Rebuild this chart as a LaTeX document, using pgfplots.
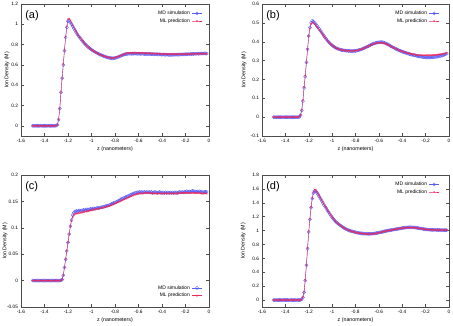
\documentclass[border=0pt]{standalone}
\usepackage{fontspec}
\setmainfont{Liberation Sans}
\usepackage{pgfplots}
\usepackage{pgfplotstable}
\pgfplotsset{compat=1.18}

\definecolor{mdc}{RGB}{90,90,245}
\definecolor{mlc}{RGB}{235,40,90}

\pgfplotstableread{
z md ml
-1.50 0 0
-1.49 0 0
-1.48 0 0
-1.47 0 0
-1.46 0 0
-1.45 0 0
-1.44 0 0
-1.43 0 0
-1.42 0 0
-1.41 0 0
-1.40 0 0
-1.39 0 0
-1.38 0 0
-1.37 0 0
-1.36 0 0
-1.35 0 0
-1.34 0 0
-1.33 0 0
-1.32 0 0
-1.31 0 0
-1.30 0.002 0.003
-1.29 0.01 0.012
-1.28 0.06 0.065
-1.27 0.17 0.17
-1.26 0.33 0.33
-1.25 0.47 0.47
-1.24 0.60 0.61
-1.23 0.74 0.75
-1.22 0.87 0.88
-1.21 0.97 0.98
-1.20 1.03 1.05
-1.19 1.035 1.055
-1.18 1.02 1.04
-1.17 1.00 1.015
-1.16 0.98 0.99
-1.15 0.96 0.97
-1.14 0.94 0.948
-1.13 0.92 0.926
-1.12 0.90 0.905
-1.11 0.885 0.888
-1.10 0.87 0.872
-1.09 0.855 0.857
-1.08 0.84 0.842
-1.07 0.825 0.828
-1.06 0.812 0.814
-1.05 0.80 0.801
-1.04 0.788 0.789
-1.03 0.777 0.778
-1.02 0.767 0.768
-1.01 0.758 0.759
-1.00 0.75 0.75
-0.99 0.742 0.742
-0.98 0.735 0.735
-0.97 0.728 0.728
-0.96 0.721 0.721
-0.95 0.715 0.715
-0.94 0.709 0.709
-0.93 0.703 0.703
-0.92 0.698 0.698
-0.91 0.693 0.693
-0.90 0.688 0.689
-0.89 0.684 0.685
-0.88 0.680 0.681
-0.87 0.676 0.678
-0.86 0.673 0.675
-0.85 0.670 0.672
-0.84 0.668 0.670
-0.83 0.666 0.669
-0.82 0.665 0.669
-0.81 0.666 0.670
-0.80 0.668 0.672
-0.79 0.671 0.675
-0.78 0.675 0.679
-0.77 0.679 0.683
-0.76 0.684 0.688
-0.75 0.689 0.693
-0.74 0.694 0.698
-0.73 0.699 0.703
-0.72 0.703 0.708
-0.71 0.706 0.712
-0.70 0.708 0.715
-0.69 0.709 0.717
-0.68 0.710 0.718
-0.67 0.711 0.719
-0.66 0.709 0.719
-0.65 0.711 0.720
-0.64 0.710 0.720
-0.63 0.712 0.720
-0.62 0.710 0.720
-0.61 0.709 0.719
-0.60 0.711 0.719
-0.59 0.710 0.718
-0.58 0.708 0.718
-0.57 0.710 0.717
-0.56 0.709 0.717
-0.55 0.707 0.716
-0.54 0.709 0.716
-0.53 0.708 0.715
-0.52 0.706 0.715
-0.51 0.708 0.714
-0.50 0.707 0.714
-0.49 0.705 0.713
-0.48 0.707 0.713
-0.47 0.706 0.712
-0.46 0.704 0.712
-0.45 0.706 0.711
-0.44 0.705 0.711
-0.43 0.703 0.710
-0.42 0.705 0.710
-0.41 0.703 0.709
-0.40 0.701 0.709
-0.39 0.703 0.708
-0.38 0.702 0.708
-0.37 0.700 0.707
-0.36 0.702 0.707
-0.35 0.700 0.707
-0.34 0.698 0.706
-0.33 0.700 0.706
-0.32 0.699 0.706
-0.31 0.701 0.706
-0.30 0.699 0.706
-0.29 0.700 0.706
-0.28 0.702 0.706
-0.27 0.701 0.706
-0.26 0.703 0.706
-0.25 0.702 0.706
-0.24 0.704 0.707
-0.23 0.703 0.707
-0.22 0.705 0.707
-0.21 0.704 0.707
-0.20 0.706 0.707
-0.19 0.705 0.708
-0.18 0.707 0.708
-0.17 0.706 0.708
-0.16 0.708 0.708
-0.15 0.707 0.709
-0.14 0.709 0.709
-0.13 0.708 0.709
-0.12 0.710 0.709
-0.11 0.709 0.710
-0.10 0.711 0.710
-0.09 0.710 0.710
-0.08 0.712 0.710
-0.07 0.711 0.711
-0.06 0.713 0.711
-0.05 0.712 0.711
-0.04 0.714 0.711
-0.03 0.712 0.711
-0.02 0.711 0.711
}\tA

\pgfplotstableread{
z md ml
-1.50 0 0
-1.49 0 0
-1.48 0 0
-1.47 0 0
-1.46 0 0
-1.45 0 0
-1.44 0 0
-1.43 0 0
-1.42 0 0
-1.41 0 0
-1.40 0 0
-1.39 0 0
-1.38 0 0
-1.37 0 0
-1.36 0 0
-1.35 0 0
-1.34 0 0
-1.33 0 0
-1.32 0 0
-1.31 0 0
-1.30 0 0
-1.29 0 0
-1.28 0.002 0.003
-1.27 0.01 0.012
-1.26 0.035 0.04
-1.25 0.085 0.09
-1.24 0.155 0.16
-1.23 0.215 0.22
-1.22 0.29 0.29
-1.21 0.36 0.36
-1.20 0.43 0.43
-1.19 0.475 0.47
-1.18 0.50 0.495
-1.17 0.512 0.502
-1.16 0.507 0.50
-1.15 0.50 0.494
-1.14 0.492 0.487
-1.13 0.484 0.479
-1.12 0.476 0.471
-1.11 0.467 0.463
-1.10 0.458 0.455
-1.09 0.449 0.446
-1.08 0.44 0.437
-1.07 0.431 0.429
-1.06 0.422 0.421
-1.05 0.414 0.413
-1.04 0.406 0.405
-1.03 0.399 0.398
-1.02 0.392 0.392
-1.01 0.386 0.386
-1.00 0.381 0.381
-0.99 0.376 0.376
-0.98 0.372 0.372
-0.97 0.368 0.368
-0.96 0.365 0.365
-0.95 0.362 0.362
-0.94 0.36 0.36
-0.93 0.358 0.358
-0.92 0.356 0.356
-0.91 0.355 0.355
-0.90 0.354 0.354
-0.89 0.353 0.353
-0.88 0.352 0.353
-0.87 0.353 0.352
-0.86 0.351 0.352
-0.85 0.352 0.352
-0.84 0.350 0.352
-0.83 0.351 0.352
-0.82 0.350 0.352
-0.81 0.352 0.352
-0.80 0.351 0.353
-0.79 0.353 0.354
-0.78 0.354 0.355
-0.77 0.356 0.356
-0.76 0.358 0.358
-0.75 0.36 0.36
-0.74 0.362 0.362
-0.73 0.365 0.365
-0.72 0.368 0.367
-0.71 0.371 0.37
-0.70 0.374 0.373
-0.69 0.377 0.376
-0.68 0.38 0.379
-0.67 0.383 0.382
-0.66 0.386 0.384
-0.65 0.389 0.387
-0.64 0.391 0.389
-0.63 0.393 0.391
-0.62 0.395 0.392
-0.61 0.396 0.393
-0.60 0.397 0.394
-0.59 0.398 0.394
-0.58 0.398 0.394
-0.57 0.397 0.393
-0.56 0.396 0.392
-0.55 0.394 0.391
-0.54 0.391 0.389
-0.53 0.388 0.386
-0.52 0.385 0.383
-0.51 0.381 0.38
-0.50 0.377 0.377
-0.49 0.374 0.374
-0.48 0.37 0.371
-0.47 0.367 0.367
-0.46 0.364 0.364
-0.45 0.361 0.361
-0.44 0.358 0.358
-0.43 0.355 0.356
-0.42 0.352 0.353
-0.41 0.35 0.351
-0.40 0.347 0.349
-0.39 0.345 0.347
-0.38 0.343 0.345
-0.37 0.341 0.343
-0.36 0.339 0.341
-0.35 0.337 0.339
-0.34 0.335 0.338
-0.33 0.333 0.336
-0.32 0.331 0.335
-0.31 0.33 0.334
-0.30 0.328 0.333
-0.29 0.327 0.332
-0.28 0.325 0.331
-0.27 0.324 0.330
-0.26 0.322 0.329
-0.25 0.321 0.329
-0.24 0.32 0.328
-0.23 0.319 0.328
-0.22 0.318 0.328
-0.21 0.317 0.328
-0.20 0.317 0.328
-0.19 0.316 0.328
-0.18 0.317 0.328
-0.17 0.316 0.328
-0.16 0.317 0.328
-0.15 0.317 0.329
-0.14 0.318 0.329
-0.13 0.318 0.329
-0.12 0.319 0.330
-0.11 0.32 0.330
-0.10 0.321 0.331
-0.09 0.322 0.332
-0.08 0.324 0.333
-0.07 0.325 0.334
-0.06 0.327 0.335
-0.05 0.329 0.336
-0.04 0.331 0.337
-0.03 0.334 0.339
-0.02 0.337 0.341
}\tB

\pgfplotstableread{
z md ml
-1.50 0 0
-1.49 0 0
-1.48 0 0
-1.47 0 0
-1.46 0 0
-1.45 0 0
-1.44 0 0
-1.43 0 0
-1.42 0 0
-1.41 0 0
-1.40 0 0
-1.39 0 0
-1.38 0 0
-1.37 0 0
-1.36 0 0
-1.35 0 0
-1.34 0 0
-1.33 0 0
-1.32 0 0
-1.31 0 0
-1.30 0 0
-1.29 0 0
-1.28 0 0
-1.27 0 0
-1.26 0.0005 0.0005
-1.25 0.002 0.002
-1.24 0.01 0.01
-1.23 0.025 0.025
-1.22 0.04 0.041
-1.21 0.056 0.057
-1.20 0.072 0.073
-1.19 0.088 0.088
-1.18 0.103 0.102
-1.17 0.115 0.113
-1.16 0.124 0.12
-1.15 0.129 0.124
-1.14 0.131 0.126
-1.13 0.132 0.127
-1.12 0.131 0.127
-1.11 0.132 0.128
-1.10 0.133 0.128
-1.09 0.132 0.129
-1.08 0.133 0.129
-1.07 0.134 0.13
-1.06 0.133 0.13
-1.05 0.134 0.131
-1.04 0.135 0.131
-1.03 0.134 0.132
-1.02 0.135 0.132
-1.01 0.136 0.133
-1.00 0.135 0.133
-0.99 0.136 0.134
-0.98 0.137 0.134
-0.97 0.136 0.135
-0.96 0.137 0.135
-0.95 0.138 0.136
-0.94 0.137 0.136
-0.93 0.138 0.137
-0.92 0.139 0.137
-0.91 0.139 0.138
-0.90 0.14 0.138
-0.89 0.14 0.139
-0.88 0.141 0.139
-0.87 0.142 0.14
-0.86 0.142 0.141
-0.85 0.143 0.141
-0.84 0.144 0.142
-0.83 0.145 0.143
-0.82 0.146 0.144
-0.81 0.147 0.145
-0.80 0.148 0.146
-0.79 0.149 0.147
-0.78 0.15 0.148
-0.77 0.151 0.149
-0.76 0.152 0.15
-0.75 0.154 0.151
-0.74 0.155 0.152
-0.73 0.156 0.153
-0.72 0.157 0.154
-0.71 0.158 0.155
-0.70 0.159 0.156
-0.69 0.16 0.157
-0.68 0.161 0.158
-0.67 0.162 0.159
-0.66 0.163 0.16
-0.65 0.164 0.161
-0.64 0.165 0.162
-0.63 0.166 0.163
-0.62 0.166 0.163
-0.61 0.167 0.164
-0.60 0.167 0.164
-0.59 0.168 0.165
-0.58 0.167 0.165
-0.57 0.168 0.165
-0.56 0.167 0.165
-0.55 0.168 0.166
-0.54 0.167 0.166
-0.53 0.168 0.166
-0.52 0.167 0.166
-0.51 0.168 0.166
-0.50 0.167 0.166
-0.49 0.168 0.165
-0.48 0.166 0.165
-0.47 0.167 0.165
-0.46 0.168 0.165
-0.45 0.167 0.165
-0.44 0.166 0.165
-0.43 0.167 0.165
-0.42 0.168 0.165
-0.41 0.167 0.165
-0.40 0.166 0.165
-0.39 0.167 0.165
-0.38 0.166 0.165
-0.37 0.167 0.165
-0.36 0.166 0.165
-0.35 0.167 0.165
-0.34 0.166 0.165
-0.33 0.167 0.165
-0.32 0.166 0.165
-0.31 0.167 0.165
-0.30 0.166 0.165
-0.29 0.167 0.165
-0.28 0.167 0.165
-0.27 0.166 0.165
-0.26 0.167 0.165
-0.25 0.168 0.166
-0.24 0.167 0.166
-0.23 0.168 0.166
-0.22 0.167 0.166
-0.21 0.168 0.166
-0.20 0.168 0.166
-0.19 0.169 0.166
-0.18 0.168 0.166
-0.17 0.169 0.166
-0.16 0.168 0.166
-0.15 0.169 0.166
-0.14 0.170 0.166
-0.13 0.169 0.166
-0.12 0.169 0.166
-0.11 0.168 0.166
-0.10 0.169 0.166
-0.09 0.168 0.166
-0.08 0.169 0.166
-0.07 0.168 0.165
-0.06 0.168 0.165
-0.05 0.167 0.165
-0.04 0.168 0.165
-0.03 0.168 0.165
-0.02 0.168 0.165
}\tC

\pgfplotstableread{
z md ml
-1.50 0 0
-1.49 0 0
-1.48 0 0
-1.47 0 0
-1.46 0 0
-1.45 0 0
-1.44 0 0
-1.43 0 0
-1.42 0 0
-1.41 0 0
-1.40 0 0
-1.39 0 0
-1.38 0 0
-1.37 0 0
-1.36 0 0
-1.35 0 0
-1.34 0 0
-1.33 0 0
-1.32 0 0
-1.31 0 0
-1.30 0 0
-1.29 0 0
-1.28 0 0
-1.27 0.003 0.003
-1.26 0.01 0.01
-1.25 0.04 0.045
-1.24 0.11 0.12
-1.23 0.28 0.29
-1.22 0.50 0.51
-1.21 0.74 0.75
-1.20 0.98 0.99
-1.19 1.16 1.17
-1.18 1.33 1.34
-1.17 1.46 1.47
-1.16 1.54 1.56
-1.15 1.57 1.59
-1.14 1.565 1.585
-1.13 1.545 1.56
-1.12 1.52 1.53
-1.11 1.49 1.50
-1.10 1.46 1.47
-1.09 1.43 1.44
-1.08 1.40 1.41
-1.07 1.37 1.38
-1.06 1.345 1.35
-1.05 1.32 1.325
-1.04 1.29 1.295
-1.03 1.265 1.27
-1.02 1.24 1.245
-1.01 1.215 1.22
-1.00 1.19 1.195
-0.99 1.17 1.172
-0.98 1.15 1.15
-0.97 1.13 1.13
-0.96 1.115 1.115
-0.95 1.10 1.10
-0.94 1.087 1.087
-0.93 1.074 1.074
-0.92 1.062 1.062
-0.91 1.051 1.051
-0.90 1.04 1.04
-0.89 1.03 1.03
-0.88 1.021 1.021
-0.87 1.013 1.013
-0.86 1.006 1.006
-0.85 1.0 1.0
-0.84 0.994 0.994
-0.83 0.989 0.988
-0.82 0.984 0.983
-0.81 0.98 0.979
-0.80 0.976 0.975
-0.79 0.972 0.971
-0.78 0.968 0.967
-0.77 0.965 0.964
-0.76 0.962 0.961
-0.75 0.96 0.958
-0.74 0.958 0.956
-0.73 0.956 0.954
-0.72 0.955 0.952
-0.71 0.954 0.951
-0.70 0.953 0.95
-0.69 0.953 0.95
-0.68 0.954 0.95
-0.67 0.954 0.951
-0.66 0.955 0.952
-0.65 0.956 0.953
-0.64 0.958 0.955
-0.63 0.961 0.958
-0.62 0.964 0.961
-0.61 0.967 0.964
-0.60 0.97 0.968
-0.59 0.974 0.972
-0.58 0.978 0.976
-0.57 0.982 0.98
-0.56 0.986 0.985
-0.55 0.99 0.989
-0.54 0.993 0.993
-0.53 0.997 0.997
-0.52 1.0 1.0
-0.51 1.003 1.003
-0.50 1.006 1.006
-0.49 1.009 1.009
-0.48 1.012 1.012
-0.47 1.015 1.015
-0.46 1.018 1.018
-0.45 1.021 1.021
-0.44 1.024 1.024
-0.43 1.027 1.027
-0.42 1.03 1.03
-0.41 1.033 1.033
-0.40 1.036 1.035
-0.39 1.039 1.037
-0.38 1.041 1.039
-0.37 1.043 1.04
-0.36 1.045 1.041
-0.35 1.046 1.042
-0.34 1.047 1.043
-0.33 1.047 1.043
-0.32 1.047 1.043
-0.31 1.046 1.042
-0.30 1.045 1.041
-0.29 1.043 1.04
-0.28 1.041 1.038
-0.27 1.038 1.036
-0.26 1.035 1.033
-0.25 1.032 1.03
-0.24 1.029 1.028
-0.23 1.026 1.025
-0.22 1.023 1.022
-0.21 1.02 1.02
-0.20 1.018 1.018
-0.19 1.016 1.016
-0.18 1.014 1.014
-0.17 1.013 1.013
-0.16 1.012 1.012
-0.15 1.011 1.011
-0.14 1.01 1.01
-0.13 1.009 1.01
-0.12 1.011 1.01
-0.11 1.008 1.009
-0.10 1.01 1.009
-0.09 1.007 1.009
-0.08 1.009 1.008
-0.07 1.006 1.008
-0.06 1.008 1.008
-0.05 1.005 1.008
-0.04 1.007 1.008
-0.03 1.005 1.008
-0.02 1.006 1.008
}\tD

\pgfplotsset{
  panel/.style={
    scale only axis, width=188pt, height=132pt,
    xmin=-1.6, xmax=0,
    xtick={-1.6,-1.4,-1.2,-1,-0.8,-0.6,-0.4,-0.2,0},
    tick align=inside, major tick length=3pt,
    axis line style={black!70, line width=0.4pt},
    every tick/.style={black!70, line width=0.4pt},
    /pgf/number format/assume math mode=true,
    tick label style={font=\fontsize{4.8}{6}\selectfont},
    yticklabel style={xshift=0.5pt},
    label style={font=\fontsize{5.3}{6}\selectfont},
    xlabel={z (nanometers)}, ylabel={Ion Density (M)},
    xlabel style={yshift=3pt},
    legend cell align=right,
    legend plot pos=right,
    legend style={draw=none, fill=none, inner sep=0pt, row sep=-1.5pt,
      font=\fontsize{5}{6}\selectfont},
    legend image code/.code={\draw[mark repeat=2,mark phase=2]
      plot coordinates {(0pt,0pt) (5pt,0pt) (10pt,0pt)};},
  },
  md/.style={color=mdc, line width=0.3pt, mark=o, mark size=1.6pt,
    mark options={line width=0.35pt}},
  ml/.style={color=mlc, line width=0.4pt, mark=x, mark size=1.1pt,
    mark options={line width=0.3pt}},
}
\tikzset{plab/.style={anchor=north west, font=\fontsize{11}{12}\selectfont, inner sep=0pt}}

\begin{document}
\begin{tikzpicture}
\path[use as bounding box] (0pt,0pt) rectangle (453pt,326pt);

% (a)
\begin{axis}[panel, at={(21pt,190pt)}, anchor=south west,
  ymin=-0.1, ymax=1.2, ytick={0,0.2,0.4,0.6,0.8,1,1.2},
  ylabel style={at={(axis description cs:-0.074,0.5)}, anchor=center},
  legend style={at={(0.965,0.965)}, anchor=north east}]
\addplot[md] table[x=z, y=md] {\tA};
\addlegendentry{MD simulation}
\addplot[ml] table[x=z, y=ml] {\tA};
\addlegendentry{ML prediction}
\node[plab] at (rel axis cs:0.022,0.955) {(a)};
\end{axis}

% (b)
\begin{axis}[panel, at={(262pt,190pt)}, anchor=south west, width=187pt,
  ymin=-0.1, ymax=0.6, ytick={-0.1,0,0.1,0.2,0.3,0.4,0.5,0.6},
  ylabel style={at={(axis description cs:-0.096,0.5)}, anchor=center},
  legend style={at={(0.95,0.965)}, anchor=north east}]
\addplot[md] table[x=z, y=md] {\tB};
\addlegendentry{MD simulation}
\addplot[ml] table[x=z, y=ml] {\tB};
\addlegendentry{ML prediction}
\node[plab] at (rel axis cs:0.022,0.955) {(b)};
\end{axis}

% (c)
\begin{axis}[panel, at={(21pt,19pt)}, anchor=south west,
  ymin=-0.05, ymax=0.2, ytick={-0.05,0,0.05,0.1,0.15,0.2},
  yticklabel style={/pgf/number format/fixed},
  ylabel style={at={(axis description cs:-0.085,0.5)}, anchor=center},
  legend style={at={(0.965,0.05)}, anchor=south east}]
\addplot[md] table[x=z, y=md] {\tC};
\addlegendentry{MD simulation}
\addplot[ml] table[x=z, y=ml] {\tC};
\addlegendentry{ML prediction}
\node[plab] at (rel axis cs:0.022,0.955) {(c)};
\end{axis}

% (d)
\begin{axis}[panel, at={(262pt,19pt)}, anchor=south west, width=187pt,
  ymin=-0.1, ymax=1.8, ytick={0,0.2,0.4,0.6,0.8,1,1.2,1.4,1.6,1.8},
  ylabel style={at={(axis description cs:-0.1,0.5)}, anchor=center},
  legend style={at={(0.95,0.965)}, anchor=north east}]
\addplot[md] table[x=z, y=md] {\tD};
\addlegendentry{MD simulation}
\addplot[ml] table[x=z, y=ml] {\tD};
\addlegendentry{ML prediction}
\node[plab] at (rel axis cs:0.022,0.955) {(d)};
\end{axis}
\end{tikzpicture}
\end{document}
